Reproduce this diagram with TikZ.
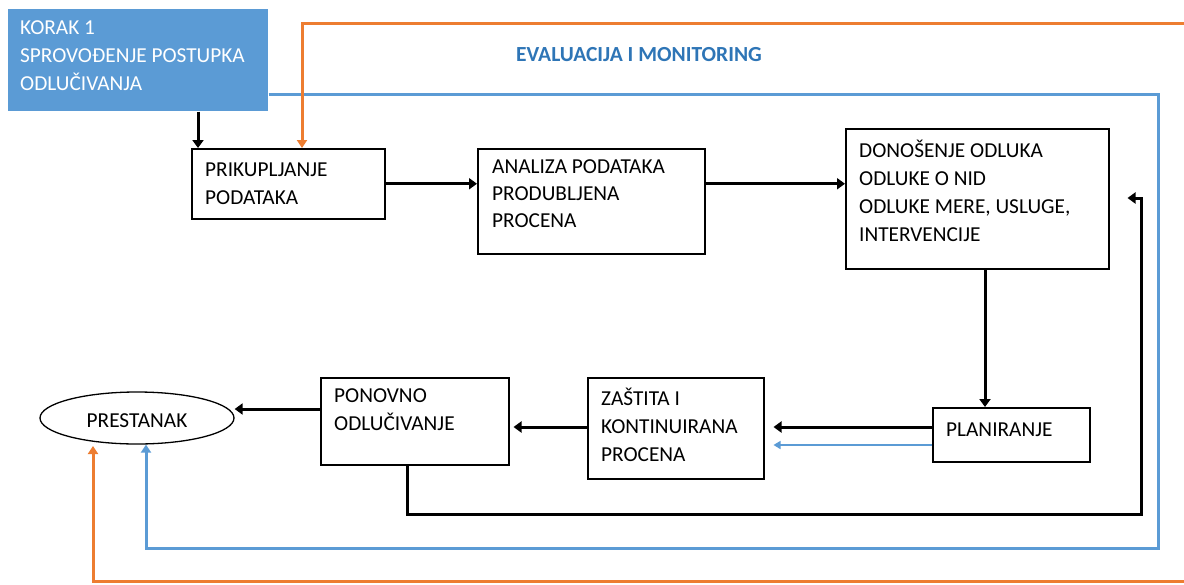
\documentclass[tikz,border=0pt]{standalone}
\usepackage{fontspec}
\setmainfont{Carlito}
\usetikzlibrary{arrows.meta,shapes.geometric}
\definecolor{cblue}{HTML}{5B9BD5}
\definecolor{corange}{HTML}{ED7D31}
\definecolor{ctitle}{HTML}{2E75B6}
\begin{document}
\begin{tikzpicture}[x=1pt,y=-1pt,
  box/.style={draw=black,line width=1.5pt,inner sep=0pt,anchor=north west},
  txt/.style={anchor=north west,inner sep=0pt,align=left,font=\fontsize{21.3}{28}\selectfont},
  blk/.style={draw=black,line width=3pt,-{Triangle[length=8pt,width=11pt]}},
  bln/.style={draw=cblue,line width=3pt,-{Triangle[length=8pt,width=10pt]}},
  orn/.style={draw=corange,line width=3pt,-{Triangle[length=8pt,width=10pt]}},
  thinblue/.style={draw=cblue,line width=1.5pt,-{Triangle[length=7pt,width=8pt]}}
]
\useasboundingbox (0,0) rectangle (1184,584);

% boxes
\node[box,draw=none,fill=cblue,minimum width=260pt,minimum height=102pt] (korak) at (7,8) {};
\node[txt,text=white] (korakt) at (20,20.5) {\rule{0pt}{14pt}KORAK 1\\SPROVOĐENJE POSTUPKA\\ODLUČIVANJA};

\node[box,minimum width=193pt,minimum height=70pt] (prik) at (191,148) {};
\node[txt] (prikt) at (205,162.5) {\rule{0pt}{14pt}PRIKUPLJANJE\\PODATAKA};

\node[box,minimum width=227pt,minimum height=105pt] (anal) at (477,148) {};
\node[txt,font=\fontsize{21.3}{27}\selectfont] (analt) at (492,159) {\rule{0pt}{14pt}ANALIZA PODATAKA\\PRODUBLJENA\\PROCENA};

\node[box,minimum width=263pt,minimum height=140pt] (don) at (845,128) {};
\node[txt] (dont) at (859,139.5) {\rule{0pt}{14pt}DONOŠENJE ODLUKA\\ODLUKE O NID\\ODLUKE MERE, USLUGE,\\INTERVENCIJE};

\node[box,minimum width=157pt,minimum height=54pt] (plan) at (932,407) {};
\node[txt] (plant) at (946,422) {\rule{0pt}{14pt}PLANIRANJE};

\node[box,minimum width=176pt,minimum height=101pt] (zas) at (587,377) {};
\node[txt] (zast) at (601,388) {\rule{0pt}{14pt}ZAŠTITA I\\KONTINUIRANA\\PROCENA};

\node[box,minimum width=188pt,minimum height=87pt] (pon) at (320,377) {};
\node[txt] (pont) at (334,388) {\rule{0pt}{14pt}PONOVNO\\ODLUČIVANJE};

\node[draw=black,line width=1.3pt,ellipse,inner sep=0pt,minimum width=194pt,minimum height=52pt] (ell) at (137,418) {};
\node[inner sep=0pt,font=\fontsize{21.3}{24}\selectfont] (ellt) at (137,421) {PRESTANAK};

\node[inner sep=0pt,font=\bfseries\fontsize{21.5}{24}\selectfont,text=ctitle] (title) at (639,55) {EVALUACIJA I MONITORING};

% coordinates
\coordinate (a1) at (198,0);
\coordinate (a4) at (985,0);
\coordinate (y5) at (0,427);
\coordinate (y5b) at (0,445);
\coordinate (y7) at (0,409);
\coordinate (c1) at (407,514);
\coordinate (c2) at (1141,514);
\coordinate (c3) at (1141,198);
\coordinate (b1) at (1158,94);
\coordinate (b2) at (1158,548);
\coordinate (b3) at (146,548);
\coordinate (o0) at (1184,23);
\coordinate (o1) at (302,23);
\coordinate (o2) at (1184,581);
\coordinate (o3) at (93,581);
\coordinate (o4) at (93,446);

% black connectors
\draw[blk] (korak.south -| a1) -- (prik.north -| a1);
\draw[blk] (prik.east) -- (anal.west |- prik.east);
\draw[blk] (anal.east |- prik.east) -- (don.west |- prik.east);
\draw[blk] (don.south -| a4) -- (plan.north -| a4);
\draw[blk,shorten >=9pt] (plan.west |- y5) -- (zas.east |- y5);
\draw[thinblue,shorten >=9pt] (plan.west |- y5b) -- (zas.east |- y5b);
\draw[blk,shorten >=4pt] (zas.west |- y5) -- (pon.east |- y5);
\draw[blk] (pon.west |- y7) -- (ell.east |- y7);
\draw[blk,shorten >=18pt] (pon.south -| c1) -- (c1) -- (c2) -- (c3) -- (don.east |- c3);

% blue loop
\draw[bln] (korak.east |- b1) -- (b1) -- (b2) -- (b3) -- (b3 |- ell.south);

% orange lines
\draw[orn] (o0) -- (o1) -- (prik.north -| o1);
\draw[orn] (o2) -- (o3) -- (o4);
\end{tikzpicture}
\end{document}
